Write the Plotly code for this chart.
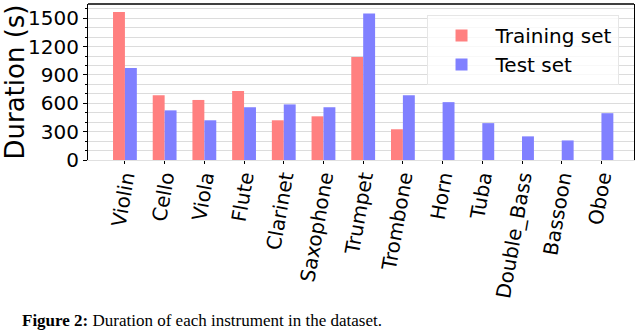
import plotly.graph_objects as go

# instrument durations (seconds)
instruments = ['Violin', 'Cello', 'Viola', 'Flute', 'Clarinet', 'Saxophone', 'Trumpet',
               'Trombone', 'Horn', 'Tuba', 'Double_Bass', 'Bassoon', 'Oboe']
train_dur = [1565, 685, 635, 730, 420, 462, 1090, 325, 0, 0, 0, 0, 0]
test_dur = [972, 525, 420, 558, 588, 558, 1550, 686, 612, 390, 250, 207, 495]
ytick_vals = [0, 300, 600, 900, 1200, 1500]

fig = go.Figure()
fig.add_trace(go.Bar(x=instruments, y=train_dur, name='Training set',
                     marker=dict(color='#ff8080', line=dict(width=0))))
fig.add_trace(go.Bar(x=instruments, y=test_dur, name='Test set',
                     marker=dict(color='#8080ff', line=dict(width=0))))

fig.update_layout(
    width=636, height=330,
    margin=dict(l=88, r=2, t=4, b=170),
    paper_bgcolor='white', plot_bgcolor='white',
    barmode='group', bargap=0.4, bargroupgap=0,
    font=dict(family='DejaVu Sans', size=20, color='black'),
    legend=dict(x=0.62, y=0.93, xanchor='left', yanchor='top',
                bgcolor='rgba(255,255,255,0.8)', bordercolor='#e6e6e6', borderwidth=1,
                font=dict(size=20), tracegroupgap=4, itemwidth=58),
    showlegend=True,
)
fig.update_xaxes(
    range=[-0.93, 12.82], tickangle=-80, ticks='outside', ticklen=3,
    tickcolor='black', showline=True, linecolor='#e0e0e0', linewidth=1,
    showgrid=False, tickfont=dict(size=20), automargin=False, ticklabelstandoff=-6,
)
fig.update_yaxes(
    range=[0, 1650], tickvals=ytick_vals, ticks='outside', ticklen=4,
    tickcolor='black', showline=True, linecolor='black', linewidth=1, mirror=True,
    showgrid=True, gridcolor='#dcdcdc', gridwidth=1,
    minor=dict(dtick=100, showgrid=True, gridcolor='#dcdcdc', ticks='outside',
               ticklen=2, tickcolor='black'),
    zeroline=False, tickfont=dict(size=20), automargin=False,
    title=dict(text='Duration (s)', font=dict(size=26), standoff=4),
)
# top spine
fig.add_shape(type='line', xref='paper', yref='paper', x0=0, x1=1, y0=1, y1=1,
              line=dict(color='black', width=1.5))
# figure caption
fig.add_annotation(text='<b>Figure 2:</b> Duration of each instrument in the dataset.',
                   xref='paper', yref='paper', x=-0.125, y=-0.955, xanchor='left', yanchor='top',
                   showarrow=False, font=dict(family='Liberation Serif', size=17, color='black'))

# page body has a default 8px margin, drop it so the figure fills the window
fig.write_html('out.html', config={'displayModeBar': False},
               post_script="document.body.style.margin='0';")
